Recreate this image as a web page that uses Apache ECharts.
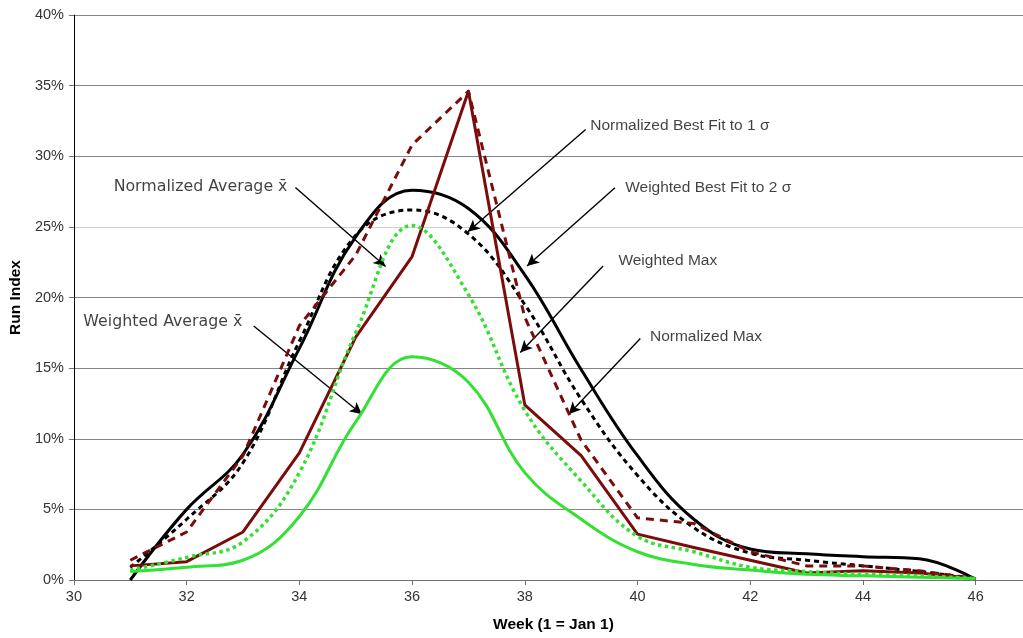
<!DOCTYPE html>
<html>
<head>
<meta charset="utf-8">
<script src="https://cdn.jsdelivr.net/npm/echarts@6/dist/echarts.min.js"></script>
<style>
html,body{margin:0;padding:0;background:#fff;}
#chart{width:1023px;height:638px;}
</style>
</head>
<body>
<div id="chart"></div>
<script>
// ---- data (Run Index, %) ----
const weeks = [31, 32, 33, 34, 35, 36, 37, 38, 39, 40, 41, 42, 43, 44, 45, 46];
const weightedBestFit2s   = [0.0, 5.0, 8.9, 16.4, 24.3, 27.6, 26.3, 21.6, 14.9, 8.8, 4.3, 2.2, 1.85, 1.65, 1.5, 0.05];
const normalizedBestFit1s = [0.9, 4.3, 8.3, 16.9, 24.4, 26.2, 24.5, 19.5, 12.8, 7.4, 3.7, 1.9, 1.4, 1.0, 0.6, 0.1];
const normalizedMax       = [1.4, 3.4, 8.8, 18.0, 23.0, 30.8, 34.6, 18.6, 9.9, 4.4, 4.0, 2.0, 1.0, 1.0, 0.65, 0.1];
const weightedMax         = [1.0, 1.3, 3.4, 9.0, 17.2, 22.9, 34.6, 12.4, 8.8, 3.25, 2.3, 1.4, 0.5, 0.65, 0.5, 0.1];
const normalizedAverage   = [0.7, 1.6, 2.7, 7.6, 17.5, 25.1, 20.2, 12.0, 7.0, 3.1, 2.0, 0.9, 0.6, 0.4, 0.3, 0.1];
const weightedAverage     = [0.6, 0.9, 1.4, 4.5, 11.2, 15.8, 14.0, 7.6, 4.3, 2.0, 1.1, 0.7, 0.4, 0.3, 0.2, 0.1];

const xTicks = [30, 32, 34, 36, 38, 40, 42, 44, 46];
const yTicks = [0, 5, 10, 15, 20, 25, 30, 35, 40];

// annotation texts, anchored in data coordinates (week, %)
const noteTexts  = ['Normalized Average x\u0304', 'Weighted Average x\u0304', 'Normalized Best Fit to 1 \u03c3', 'Weighted Best Fit to 2 \u03c3', 'Weighted Max', 'Normalized Max'];
const noteAnchor = [[33.79, 27.86], [32.99, 18.3], [39.16, 32.18], [39.78, 27.8], [39.66, 22.63], [40.22, 17.2]];
const noteSide   = ['left', 'left', 'right', 'right', 'right', 'right'];
const arrowFrom  = [[33.93, 27.79], [33.19, 17.98], [39.08, 31.9], [39.60, 27.77], [39.39, 22.23], [40.05, 17.09]];
const arrowTo    = [[35.53, 22.2], [35.11, 11.74], [36.99, 24.65], [38.04, 22.23], [37.92, 16.1], [38.78, 11.74]];

const pts = arr => weeks.map((w, i) => [w, arr[i]]);

const chart = echarts.init(document.getElementById('chart'), null, {renderer: 'canvas'});

const gridColors = yTicks.map(v => v === 25 ? '#cfcfcf' : '#858585');
const tickFont = {fontFamily: 'Liberation Sans, Arial, sans-serif', fontSize: 14.5, color: '#333'};
const titleFont = {fontFamily: 'Liberation Sans, Arial, sans-serif', fontSize: 15.5, fontWeight: 'bold', color: '#000'};

function lineSeries(name, arr, color, type, smooth, z, width) {
  return {
    name: name, type: 'line', data: pts(arr), smooth: smooth, showSymbol: false, symbol: 'none',
    z: z, animation: false,
    lineStyle: {color: color, width: width || 3, type: type, cap: 'butt', join: 'round'}
  };
}

const option = {
  animation: false,
  backgroundColor: '#fff',
  grid: {left: 73, right: 0, top: 15, bottom: 57, containLabel: false},
  xAxis: {
    type: 'value', min: 30, max: 46.84, interval: 2,
    name: 'Week (1 = Jan 1)', nameLocation: 'middle', nameGap: 37,
    nameTextStyle: Object.assign({padding: [0, 0, 0, 10]}, titleFont),
    axisLine: {show: true, onZero: false, lineStyle: {color: '#707070', width: 1}},
    axisTick: {show: true, length: 5, inside: false, customValues: xTicks, lineStyle: {color: '#707070'}},
    axisLabel: Object.assign({margin: 9, customValues: xTicks, formatter: v => xTicks.indexOf(v) >= 0 ? String(v) : ''}, tickFont),
    splitLine: {show: false}
  },
  yAxis: {
    type: 'value', min: 0, max: 40, interval: 5,
    name: 'Run Index', nameLocation: 'middle', nameGap: 45, nameRotate: 90,
    nameTextStyle: titleFont,
    axisLine: {show: true, lineStyle: {color: '#000', width: 1}},
    axisTick: {show: true, length: 5, lineStyle: {color: '#707070'}},
    axisLabel: Object.assign({margin: 10, formatter: v => yTicks.indexOf(v) >= 0 ? v + '%' : ''}, tickFont),
    splitLine: {show: true, lineStyle: {color: gridColors, width: 1.2}}
  },
  series: [
    lineSeries('Weighted Best Fit to 2 \u03c3', weightedBestFit2s, '#000000', 'solid', 0.4, 3),
    lineSeries('Normalized Best Fit to 1 \u03c3', normalizedBestFit1s, '#000000', [5, 4], 0.4, 4),
    lineSeries('Normalized Max', normalizedMax, '#7b0c0c', [8, 6], false, 5),
    lineSeries('Weighted Max', weightedMax, '#7b0c0c', 'solid', false, 6),
    lineSeries('Normalized Average x\u0304', normalizedAverage, '#33e033', [3.5, 3.5], 0.4, 7, 3.5),
    lineSeries('Weighted Average x\u0304', weightedAverage, '#33e033', 'solid', 0.4, 8),
    {
      name: 'notes', type: 'scatter', z: 10, silent: true, animation: false,
      symbolSize: 0.1, itemStyle: {color: 'rgba(0,0,0,0)'},
      data: noteTexts.map((t, i) => ({
        value: noteAnchor[i],
        label: {
          show: true, formatter: t, position: noteSide[i], distance: 0,
          fontFamily: i < 2 ? 'DejaVu Sans, Verdana, sans-serif' : 'Liberation Sans, Arial, sans-serif',
          fontSize: i < 2 ? 15.8 : 15.5, color: '#111'
        }
      })),
      markLine: {
        silent: true, animation: false,
        symbol: ['none', 'arrow'], symbolSize: [9, 12],
        label: {show: false},
        lineStyle: {color: '#000', width: 1.4, type: 'solid'},
        data: arrowFrom.map((f, i) => [{coord: f}, {coord: arrowTo[i]}])
      }
    }
  ]
};

chart.setOption(option);
</script>
</body>
</html>
